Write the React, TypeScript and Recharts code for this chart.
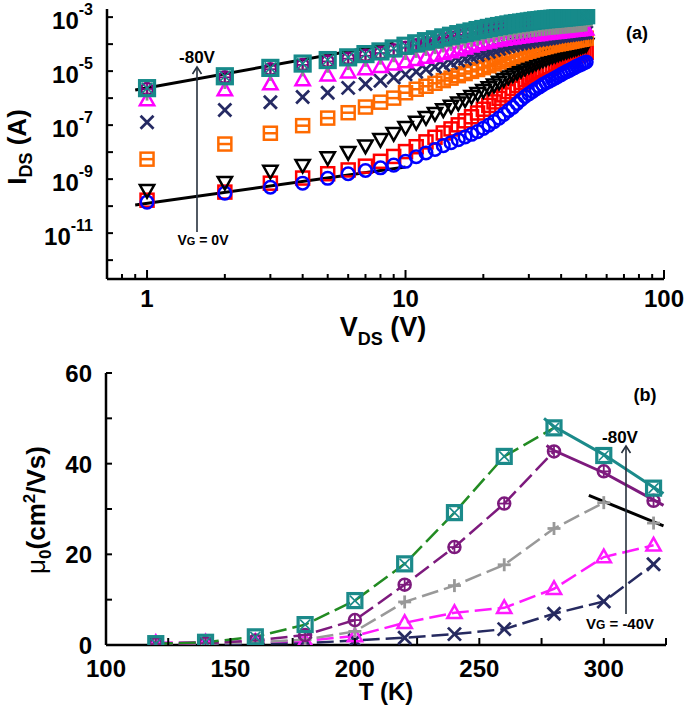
import React from 'react';
import { ComposedChart, Scatter, XAxis, YAxis } from 'recharts';

const FONT = '"Liberation Sans", Arial, Helvetica, sans-serif';

// ---------- panel (a): I_DS vs V_DS at several gate voltages ----------
const vds = [
  1, 2, 3, 4, 5, 6, 7, 8, 9, 10, 11, 12, 13, 14, 15, 16, 17, 18, 19, 20, 21, 22, 23, 24, 25,
  26, 27, 28, 29, 30, 31, 32, 33, 34, 35, 36, 37, 38, 39, 40, 41, 42, 43, 44, 45, 46, 47, 48, 49, 50,
];

// currents, kept as log10(I / A)
const logI0V = [
  -9.85, -9.52, -9.3, -9.15, -8.97, -8.8, -8.68, -8.58, -8.48, -8.34,
  -8.17, -8.03, -7.9, -7.76, -7.65, -7.54, -7.44, -7.34, -7.24, -7.12,
  -7.0, -6.87, -6.74, -6.6, -6.46, -6.34, -6.2, -6.06, -5.94, -5.84,
  -5.75, -5.66, -5.58, -5.5, -5.43, -5.37, -5.31, -5.25, -5.19, -5.13,
  -5.07, -5.02, -4.97, -4.92, -4.87, -4.82, -4.78, -4.74, -4.7, -4.66,
];
const logI10V = [
  -9.78, -9.48, -9.15, -8.96, -8.8, -8.66, -8.52, -8.34, -8.16, -7.98,
  -7.8, -7.62, -7.45, -7.29, -7.14, -6.99, -6.84, -6.69, -6.55, -6.41,
  -6.27, -6.14, -6.01, -5.88, -5.76, -5.64, -5.53, -5.42, -5.32, -5.23,
  -5.15, -5.08, -5.01, -4.95, -4.89, -4.84, -4.79, -4.74, -4.7, -4.66,
  -4.62, -4.58, -4.54, -4.5, -4.46, -4.43, -4.4, -4.36, -4.33, -4.3,
];
const logI20V = [
  -9.41, -9.11, -8.7, -8.48, -8.2, -8.0, -7.76, -7.52, -7.3, -7.08,
  -6.88, -6.71, -6.56, -6.42, -6.29, -6.17, -6.05, -5.93, -5.82, -5.71,
  -5.6, -5.5, -5.4, -5.3, -5.21, -5.12, -5.03, -4.95, -4.87, -4.8,
  -4.74, -4.68, -4.62, -4.57, -4.52, -4.47, -4.43, -4.39, -4.35, -4.31,
  -4.27, -4.24, -4.21, -4.18, -4.15, -4.12, -4.09, -4.06, -4.03, -4.0,
];
const logI30V = [
  -8.26, -7.7, -7.3, -7.02, -6.74, -6.54, -6.33, -6.15, -6.0, -5.8,
  -5.67, -5.56, -5.45, -5.35, -5.26, -5.17, -5.09, -5.01, -4.94, -4.87,
  -4.8, -4.73, -4.66, -4.59, -4.52, -4.46, -4.4, -4.35, -4.3, -4.26,
  -4.22, -4.18, -4.15, -4.12, -4.09, -4.06, -4.03, -4.01, -3.99, -3.97,
  -3.95, -3.93, -3.91, -3.89, -3.87, -3.85, -3.83, -3.82, -3.8, -3.78,
];
const logI40V = [
  -6.89, -6.44, -6.15, -5.96, -5.8, -5.62, -5.48, -5.36, -5.24, -5.12,
  -5.02, -4.93, -4.84, -4.76, -4.68, -4.61, -4.54, -4.47, -4.4, -4.34,
  -4.28, -4.22, -4.17, -4.12, -4.08, -4.04, -4.0, -3.97, -3.94, -3.91,
  -3.88, -3.86, -3.84, -3.82, -3.8, -3.78, -3.76, -3.74, -3.72, -3.7,
  -3.69, -3.67, -3.66, -3.64, -3.63, -3.62, -3.6, -3.59, -3.58, -3.57,
];
const logI50V = [
  -6.07, -5.7, -5.48, -5.33, -5.15, -5.04, -4.92, -4.84, -4.75, -4.66,
  -4.58, -4.5, -4.43, -4.36, -4.29, -4.22, -4.15, -4.08, -4.02, -3.97,
  -3.93, -3.89, -3.86, -3.83, -3.8, -3.78, -3.76, -3.74, -3.72, -3.7,
  -3.68, -3.66, -3.65, -3.63, -3.62, -3.6, -3.59, -3.58, -3.57, -3.55,
  -3.54, -3.53, -3.52, -3.51, -3.5, -3.49, -3.48, -3.47, -3.46, -3.45,
];
const logI60V = [
  -5.85, -5.42, -5.12, -4.95, -4.82, -4.72, -4.6, -4.52, -4.43, -4.35,
  -4.27, -4.2, -4.13, -4.07, -4.01, -3.96, -3.91, -3.86, -3.82, -3.78,
  -3.74, -3.71, -3.68, -3.65, -3.62, -3.6, -3.58, -3.56, -3.54, -3.52,
  -3.5, -3.49, -3.47, -3.46, -3.45, -3.43, -3.42, -3.41, -3.4, -3.39,
  -3.38, -3.37, -3.36, -3.35, -3.34, -3.33, -3.32, -3.31, -3.3, -3.29,
];
const logI70V = [
  -5.66, -5.23, -4.93, -4.77, -4.64, -4.54, -4.43, -4.33, -4.23, -4.13,
  -4.04, -3.96, -3.89, -3.82, -3.76, -3.7, -3.65, -3.6, -3.55, -3.51,
  -3.47, -3.43, -3.4, -3.37, -3.34, -3.31, -3.29, -3.27, -3.25, -3.23,
  -3.21, -3.19, -3.18, -3.16, -3.15, -3.14, -3.13, -3.12, -3.11, -3.1,
  -3.09, -3.08, -3.07, -3.06, -3.05, -3.04, -3.03, -3.02, -3.01, -3.0,
];
const logI80V = [
  -5.63, -5.19, -4.88, -4.72, -4.59, -4.49, -4.37, -4.27, -4.16, -4.06,
  -3.97, -3.89, -3.82, -3.75, -3.69, -3.63, -3.58, -3.53, -3.48, -3.44,
  -3.4, -3.36, -3.33, -3.3, -3.27, -3.24, -3.22, -3.2, -3.18, -3.16,
  -3.14, -3.12, -3.11, -3.09, -3.08, -3.07, -3.06, -3.05, -3.04, -3.03,
  -3.02, -3.01, -3.0, -2.99, -2.98, -2.97, -2.96, -2.95, -2.94, -2.93,
];

// straight guide lines through the 0V and -80V data (log10 values)
const fitLowV = [0.9, 10];
const fitLowLogI = [-9.96, -8.55];
const fitHighV = [0.9, 9];
const fitHighLogI = [-5.7, -3.97];

const ticksVds = [0.8, 0.9, 1, 2, 3, 4, 5, 6, 7, 8, 9, 10, 20, 30, 40, 50, 60, 70, 80, 90, 100];
const ticksIds = [1e-12, 1e-11, 1e-10, 1e-9, 1e-8, 1e-7, 1e-6, 1e-5, 1e-4, 1e-3];

// ---------- panel (b): mobility vs temperature ----------
const temps = [120, 140, 160, 180, 200, 220, 240, 260, 280, 300, 320];
const mu80 = [0.3, 0.6, 1.8, 4.5, 9.8, 17.9, 29.2, 41.6, 47.9, 41.8, 34.6];
const mu70 = [0.2, 0.4, 1.0, 2.2, 5.5, 13.3, 21.6, 31.2, 42.7, 38.3, 31.8];
const mu60 = [0.1, 0.3, 0.6, 1.2, 3.0, 9.5, 13.1, 17.7, 25.7, 31.4, 26.9];
const mu50 = [0.5, 0.6, 0.7, 0.9, 2.0, 4.9, 7.1, 8.2, 12.4, 19.4, 22.0];
const mu40 = [0.2, 0.2, 0.3, 0.4, 1.0, 1.6, 2.4, 3.5, 6.9, 9.6, 17.8];

const fit80T = [276, 280, 300, 320, 324];
const fit80Mu = [50.0, 48.2, 42.0, 34.8, 33.4];
const fit70T = [277, 280, 300, 320, 324];
const fit70Mu = [44.0, 42.9, 38.0, 32.0, 30.8];
const fit60T = [294, 324];
const fit60Mu = [33.0, 26.3];

const ticksT = [100, 125, 150, 175, 200, 225, 250, 275, 300, 325];
const ticksMu = [0, 10, 20, 30, 40, 50, 60];

type Kind =
  | 'circle' | 'square' | 'squareBar' | 'triDown' | 'triUp'
  | 'cross' | 'plus' | 'circlePlus' | 'squareX';

function Marker({ kind, cx, cy, color, s = 6, fill = 'none' }: {
  kind: Kind; cx: number; cy: number; color: string; s?: number; fill?: string;
}) {
  const sw = 2.5;
  const base = { stroke: color, strokeWidth: sw, fill };
  switch (kind) {
    case 'circle':
      return <circle cx={cx} cy={cy} r={s - 0.2} {...base} />;
    case 'square':
      return <rect x={cx - s} y={cy - s} width={2 * s} height={2 * s} {...base} />;
    case 'squareBar':
      return (
        <g>
          <rect x={cx - s} y={cy - s} width={2 * s} height={2 * s} {...base} />
          <line x1={cx - s} x2={cx + s} y1={cy} y2={cy} stroke={color} strokeWidth={sw} />
        </g>
      );
    case 'triDown':
      return (
        <polygon
          points={`${cx - s * 1.1},${cy - s * 0.8} ${cx + s * 1.1},${cy - s * 0.8} ${cx},${cy + s * 1.15}`}
          {...base}
        />
      );
    case 'triUp':
      return (
        <polygon
          points={`${cx - s * 1.1},${cy + s * 0.8} ${cx + s * 1.1},${cy + s * 0.8} ${cx},${cy - s * 1.15}`}
          {...base}
        />
      );
    case 'cross':
      return (
        <g stroke={color} strokeWidth={2.8}>
          <line x1={cx - s} y1={cy - s} x2={cx + s} y2={cy + s} />
          <line x1={cx - s} y1={cy + s} x2={cx + s} y2={cy - s} />
        </g>
      );
    case 'plus':
      return (
        <g stroke={color} strokeWidth={2.8}>
          <line x1={cx - s} y1={cy} x2={cx + s} y2={cy} />
          <line x1={cx} y1={cy - s} x2={cx} y2={cy + s} />
        </g>
      );
    case 'circlePlus':
      return (
        <g>
          <circle cx={cx} cy={cy} r={s - 0.5} {...base} />
          <line x1={cx - s + 1} y1={cy} x2={cx + s - 1} y2={cy} stroke={color} strokeWidth={1.8} />
          <line x1={cx} y1={cy - s + 1} x2={cx} y2={cy + s - 1} stroke={color} strokeWidth={1.8} />
        </g>
      );
    case 'squareX':
    default:
      return (
        <g>
          <rect x={cx - s} y={cy - s} width={2 * s} height={2 * s} stroke={color} strokeWidth={3.2} fill={fill} />
          <line x1={cx - s + 2} y1={cy - s + 2} x2={cx + s - 2} y2={cy + s - 2} stroke={color} strokeWidth={1.6} />
          <line x1={cx - s + 2} y1={cy + s - 2} x2={cx + s - 2} y2={cy - s + 2} stroke={color} strokeWidth={1.6} />
        </g>
      );
  }
}

const seriesA: { name: string; log: number[]; kind: Kind; color: string }[] = [
  { name: '-10V', log: logI10V, kind: 'square', color: '#ff0000' },
  { name: '0V', log: logI0V, kind: 'circle', color: '#0000ff' },
  { name: '-20V', log: logI20V, kind: 'triDown', color: '#000000' },
  { name: '-30V', log: logI30V, kind: 'squareBar', color: '#ff6a00' },
  { name: '-40V', log: logI40V, kind: 'cross', color: '#252a63' },
  { name: '-50V', log: logI50V, kind: 'triUp', color: '#ff00ff' },
  { name: '-60V', log: logI60V, kind: 'plus', color: '#8c8c8c' },
  { name: '-70V', log: logI70V, kind: 'circlePlus', color: '#800080' },
  { name: '-80V', log: logI80V, kind: 'squareX', color: '#168a8a' },
];

const seriesB: { name: string; mu: number[]; kind: Kind; color: string; line: string; dashTo: number }[] = [
  { name: '-40V', mu: mu40, kind: 'cross', color: '#262a60', line: '#262a60', dashTo: 11 },
  { name: '-50V', mu: mu50, kind: 'triUp', color: '#ff1aff', line: '#ff1aff', dashTo: 11 },
  { name: '-60V', mu: mu60, kind: 'plus', color: '#999999', line: '#999999', dashTo: 10 },
  { name: '-70V', mu: mu70, kind: 'circlePlus', color: '#7d1a7d', line: '#7d1a7d', dashTo: 9 },
  { name: '-80V', mu: mu80, kind: 'squareX', color: '#1b8a8a', line: '#228b22', dashTo: 9 },
];

const fitsB = [
  { t: fit80T, mu: fit80Mu, color: '#1b8a8a' },
  { t: fit70T, mu: fit70Mu, color: '#7d1a7d' },
  { t: fit60T, mu: fit60Mu, color: '#000000' },
];

const axisStyle = { stroke: '#000', strokeWidth: 2.5 };
const noShape = () => <g />;

// ticks point into the plot; labels drawn only where the reference has them
function edgeTick(side: 'top' | 'right', len: (v: number) => number) {
  return (props: any) => {
    const { x, y, payload } = props;
    const l = len(payload.value);
    return side === 'top' ? (
      <line x1={x} x2={x} y1={y} y2={y + l} stroke="#000" strokeWidth={2} />
    ) : (
      <line x1={x} x2={x - l} y1={y} y2={y} stroke="#000" strokeWidth={2} />
    );
  };
}

const isDecade = (v: number) => [1, 10, 100].includes(v);

const tickVdsBottom = (props: any) => {
  const v = props.payload.value;
  return (
    <g>
      <line x1={props.x} x2={props.x} y1={props.y} y2={props.y - (isDecade(v) ? 9 : 5)} stroke="#000" strokeWidth={2} />
      {isDecade(v) ? (
        <text x={props.x} y={props.y + 28} textAnchor="middle" fontFamily={FONT} fontWeight="bold" fontSize={24}>
          {v}
        </text>
      ) : null}
    </g>
  );
};
const tickVdsTop = edgeTick('top', (v) => (isDecade(v) ? 9 : 5));
const tickIdsRight = edgeTick('right', () => 6);
const tickIdsLeft = (props: any) => {
  const v = props.payload.value;
  const e = Math.round(Math.log10(v));
  return (
    <g>
      <line x1={props.x} x2={props.x + 6} y1={props.y} y2={props.y} stroke="#000" strokeWidth={2} />
      {Math.abs(e) % 2 === 1 ? (
        <text x={props.x - 14} y={props.y + 12} textAnchor="end" fontFamily={FONT} fontWeight="bold" fontSize={24}>
          <tspan>10</tspan>
          <tspan dy={-14} fontSize={16}>{`-${Math.abs(e)}`}</tspan>
        </text>
      ) : null}
    </g>
  );
};

const tickTBottom = (props: any) => {
  const v = props.payload.value;
  return (
    <g>
      <line x1={props.x} x2={props.x} y1={props.y} y2={props.y - 7} stroke="#000" strokeWidth={2} />
      {v % 50 === 0 && v < 325 ? (
        <text x={props.x} y={props.y + 32} textAnchor="middle" fontFamily={FONT} fontWeight="bold" fontSize={24}>
          {v}
        </text>
      ) : null}
    </g>
  );
};
const tickTTop = edgeTick('top', () => 7);
const tickMuRight = edgeTick('right', () => 6);
const tickMuLeft = (props: any) => {
  const v = props.payload.value;
  return (
    <g>
      <line x1={props.x} x2={props.x + 6} y1={props.y} y2={props.y} stroke="#000" strokeWidth={2} />
      {v % 20 === 0 ? (
        <text x={props.x - 14} y={props.y + 9} textAnchor="end" fontFamily={FONT} fontWeight="bold" fontSize={24}>
          {v}
        </text>
      ) : null}
    </g>
  );
};

function PanelA() {
  const data = seriesA.map((s) => vds.map((v, k) => ({ v, i: Math.pow(10, s.log[k]) })));
  const low = fitLowV.map((v, k) => ({ v, i: Math.pow(10, fitLowLogI[k]) }));
  const high = fitHighV.map((v, k) => ({ v, i: Math.pow(10, fitHighLogI[k]) }));
  return (
    <ComposedChart width={685} height={330} margin={{ top: 9, right: 21, bottom: 0, left: 0 }}>
      <XAxis
        dataKey="v" type="number" scale="log" domain={[0.7, 100]} allowDataOverflow
        ticks={ticksVds} interval={0} tickSize={0} tickMargin={0} tickLine={false}
        axisLine={axisStyle} tick={tickVdsBottom} height={51}
      />
      <XAxis
        xAxisId="top" orientation="top" dataKey="v" type="number" scale="log" domain={[0.7, 100]} allowDataOverflow
        ticks={ticksVds} interval={0} tickSize={0} tickMargin={0} tickLine={false}
        axisLine={axisStyle} tick={tickVdsTop} height={0}
      />
      <YAxis
        dataKey="i" type="number" scale="log" domain={[2e-13, 2e-3]} allowDataOverflow
        ticks={ticksIds} interval={0} tickSize={0} tickMargin={0} tickLine={false}
        axisLine={axisStyle} tick={tickIdsLeft} width={107}
      />
      <YAxis
        yAxisId="right" orientation="right" dataKey="i" type="number" scale="log" domain={[2e-13, 2e-3]} allowDataOverflow
        ticks={ticksIds} interval={0} tickSize={0} tickMargin={0} tickLine={false}
        axisLine={axisStyle} tick={tickIdsRight} width={0}
      />
      <Scatter data={low} dataKey="i" line={{ stroke: '#000', strokeWidth: 3 }} shape={noShape} isAnimationActive={false} />
      <Scatter data={high} dataKey="i" line={{ stroke: '#000', strokeWidth: 3 }} shape={noShape} isAnimationActive={false} />
      {seriesA.map((s, k) => (
        <Scatter
          key={s.name}
          name={s.name}
          data={data[k]}
          dataKey="i"
          isAnimationActive={false}
          shape={(p: any) => (
            <Marker kind={s.kind} cx={p.cx} cy={p.cy} color={s.color} s={s.kind === 'squareX' ? 7.5 : 6.5} />
          )}
        />
      ))}
    </ComposedChart>
  );
}

function PanelB() {
  return (
    <ComposedChart width={685} height={381} margin={{ top: 43, right: 19, bottom: 0, left: 0 }}>
      <XAxis
        dataKey="t" type="number" domain={[100, 325]} allowDataOverflow
        ticks={ticksT} interval={0} tickSize={0} tickMargin={0} tickLine={false}
        axisLine={axisStyle} tick={tickTBottom} height={66}
      />
      <XAxis
        xAxisId="top" orientation="top" dataKey="t" type="number" domain={[100, 325]} allowDataOverflow
        ticks={ticksT} interval={0} tickSize={0} tickMargin={0} tickLine={false}
        axisLine={axisStyle} tick={tickTTop} height={0}
      />
      <YAxis
        dataKey="mu" type="number" domain={[0, 60]} allowDataOverflow
        ticks={ticksMu} interval={0} tickSize={0} tickMargin={0} tickLine={false}
        axisLine={axisStyle} tick={tickMuLeft} width={106}
      />
      <YAxis
        yAxisId="right" orientation="right" dataKey="mu" type="number" domain={[0, 60]} allowDataOverflow
        ticks={ticksMu} interval={0} tickSize={0} tickMargin={0} tickLine={false}
        axisLine={axisStyle} tick={tickMuRight} width={0}
      />
      {seriesB.map((s) => (
        <Scatter
          key={s.name + '-line'}
          data={temps.slice(0, s.dashTo).map((t, k) => ({ t, mu: s.mu[k] }))}
          dataKey="mu"
          line={{ stroke: s.line, strokeWidth: 2.5, strokeDasharray: '17 6' }}
          shape={noShape}
          isAnimationActive={false}
        />
      ))}
      {fitsB.map((f, k) => (
        <Scatter
          key={'fit' + k}
          data={f.t.map((t, j) => ({ t, mu: f.mu[j] }))}
          dataKey="mu"
          line={{ stroke: f.color, strokeWidth: 3 }}
          shape={noShape}
          isAnimationActive={false}
        />
      ))}
      {seriesB.map((s) => (
        <Scatter
          key={s.name}
          name={s.name}
          data={temps.map((t, k) => ({ t, mu: s.mu[k] }))}
          dataKey="mu"
          isAnimationActive={false}
          shape={(p: any) => (
            <Marker kind={s.kind} cx={p.cx} cy={p.cy} color={s.color} s={s.kind === 'squareX' ? 7 : 6.5} fill="none" />
          )}
        />
      ))}
    </ComposedChart>
  );
}

function Overlay() {
  const arrow = '#26303d';
  return (
    <svg width={685} height={711} style={{ position: 'absolute', left: 0, top: 0, pointerEvents: 'none' }}>
      <g fontFamily={FONT} fontWeight="bold" fill="#000">
        {/* panel (a) titles */}
        <text transform="translate(26,147) rotate(-90)" textAnchor="middle" fontSize={26}>
          I<tspan fontSize={18} dy={6}>DS</tspan>
          <tspan dy={-6}> (A)</tspan>
        </text>
        <text x={383} y={336} textAnchor="middle" fontSize={27}>
          V<tspan fontSize={18} dy={9}>DS</tspan>
          <tspan dy={-9}> (V)</tspan>
        </text>
        <text x={637} y={39} textAnchor="middle" fontSize={18}>(a)</text>
        <text x={197} y={63} textAnchor="middle" fontSize={17}>-80V</text>
        <text x={203} y={245} textAnchor="middle" fontSize={14}>
          V<tspan fontSize={11}>G</tspan> = 0V
        </text>

        {/* panel (b) titles */}
        <text transform="translate(45,510) rotate(-90)" textAnchor="middle" fontSize={26}>
          <tspan fontWeight="normal">μ</tspan>
          <tspan fontSize={17} dy={6}>0</tspan>
          <tspan dy={-6}>(cm</tspan>
          <tspan fontSize={17} dy={-10}>2</tspan>
          <tspan dy={10}>/Vs)</tspan>
        </text>
        <text x={386} y={700} textAnchor="middle" fontSize={24}>T (K)</text>
        <text x={645} y={401} textAnchor="middle" fontSize={18}>(b)</text>
        <text x={620} y={443} textAnchor="middle" fontSize={17}>-80V</text>
        <text x={620} y={629} textAnchor="middle" fontSize={15}>
          V<tspan fontSize={12}>G</tspan> = -40V
        </text>
      </g>
      <g stroke={arrow} strokeWidth={1.6} fill="none">
        <line x1={197} y1={232} x2={197} y2={67} />
        <polyline points="192.5,74 197,67 201.5,74" />
        <line x1={626} y1={614} x2={626} y2={446} />
        <polyline points="621.5,453 626,446 630.5,453" />
      </g>
    </svg>
  );
}

export default function App() {
  return (
    <div style={{ position: 'absolute', left: 0, top: 0, width: 685, height: 711, background: '#fff' }}>
      <div style={{ position: 'absolute', left: 0, top: 0 }}>
        <PanelA />
      </div>
      <div style={{ position: 'absolute', left: 0, top: 330 }}>
        <PanelB />
      </div>
      <Overlay />
    </div>
  );
}
